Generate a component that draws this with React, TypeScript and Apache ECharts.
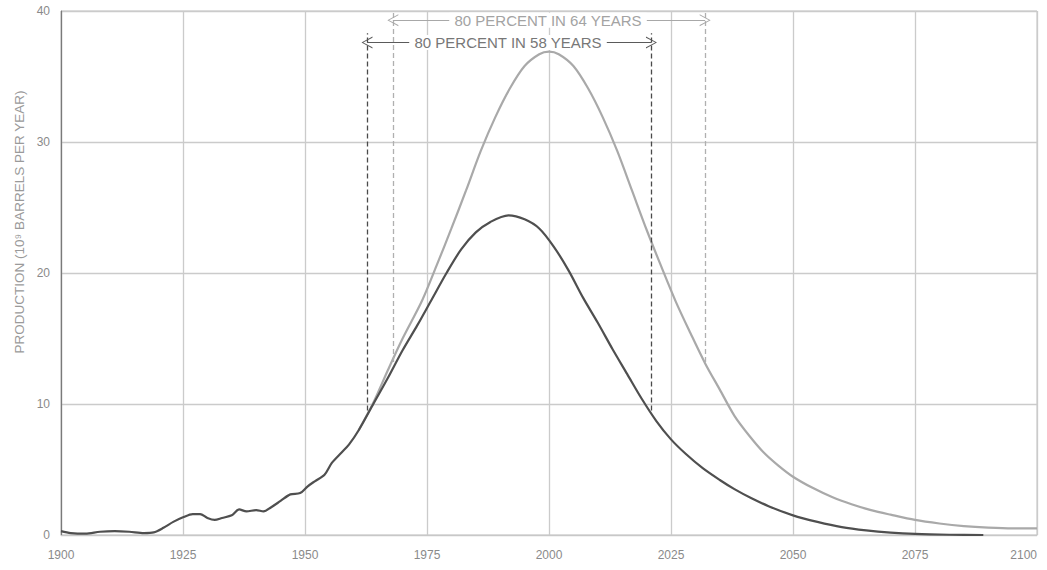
import React, { useEffect, useRef } from "react";
import * as echarts from "echarts";

// Production, 10^9 barrels per year
const lowerEstimate: [number, number][] = [
  [1900, 0.3], [1902, 0.15], [1905, 0.1], [1908, 0.25], [1911, 0.3], [1914, 0.25],
  [1917, 0.15], [1919, 0.2], [1921, 0.55], [1923, 1.0], [1925, 1.35], [1927, 1.6],
  [1928.5, 1.6], [1930, 1.3], [1931.5, 1.15], [1933, 1.3], [1935, 1.5], [1936.5, 1.95],
  [1938, 1.8], [1940, 1.9], [1941.5, 1.8], [1943, 2.1], [1945, 2.6], [1947, 3.1],
  [1949, 3.2], [1950.5, 3.7], [1952, 4.1], [1954, 4.6], [1955.5, 5.5], [1957.5, 6.3],
  [1959, 6.9], [1961, 8.0], [1964, 10.0], [1967, 12.0], [1970, 14.1], [1973, 16.0],
  [1976, 18.0], [1979, 20.0], [1982, 21.8], [1985, 23.1], [1988, 23.9], [1991.7, 24.4],
  [1995, 24.1], [1998, 23.4], [2001, 22.0], [2004, 20.2], [2007, 18.1], [2010, 16.2],
  [2013, 14.2], [2016, 12.3], [2019, 10.4], [2022, 8.7], [2025, 7.3], [2028, 6.2],
  [2031.5, 5.1], [2035, 4.2], [2038, 3.5], [2041.5, 2.8], [2045, 2.2], [2050, 1.5],
  [2055, 1.0], [2060, 0.6], [2065, 0.35], [2070, 0.18], [2075, 0.08], [2082, 0.02],
  [2089, 0.0],
];

const higherEstimate: [number, number][] = [
  [1961, 8.0], [1964, 10.1], [1967, 12.6], [1970, 15.0], [1974, 17.9], [1977, 20.6],
  [1980, 23.4], [1983, 26.3], [1986, 29.3], [1989, 31.9], [1992, 34.1], [1995, 35.8],
  [1998, 36.7], [2000, 36.9], [2002, 36.7], [2005, 35.8], [2008, 34.1], [2011, 31.9],
  [2014, 29.3], [2017, 26.3], [2020, 23.3], [2023, 20.5], [2026, 17.8], [2029, 15.4],
  [2032, 13.1], [2035, 11.1], [2038, 9.1], [2041, 7.6], [2044, 6.3], [2047, 5.3],
  [2050, 4.45], [2054, 3.6], [2058, 2.9], [2062, 2.35], [2066, 1.9], [2070, 1.55],
  [2075, 1.15], [2080, 0.88], [2085, 0.68], [2090, 0.56], [2095, 0.5], [2100, 0.5],
];

// 80 percent spans
const lowSpan = { start: 1962.7, end: 2021, base: 9.5, top: 38.3, arrowY: 37.6, text: "80 PERCENT IN 58 YEARS", textX: 1991.6 };
const highSpan = { start: 1968, end: 2032, base: 13.2, top: 40, arrowY: 39.3, text: "80 PERCENT IN 64 YEARS", textX: 1999.8 };

const xTicks = [1900, 1925, 1950, 1975, 2000, 2025, 2050, 2075, 2100];
const yTicks = [0, 10, 20, 30, 40];
const yTitle = "PRODUCTION (10⁹ BARRELS PER YEAR)";

const FONT = "'Liberation Sans Narrow', 'Liberation Sans', Arial, sans-serif";
const chevron = "path://M5,0 L10,10 L9,10 L5,1.6 L1,10 L0,10 Z";

export default function App() {
  const ref = useRef<HTMLDivElement>(null);
  useEffect(() => {
    document.body.style.margin = "0";
    const chart = echarts.init(ref.current!, null, { renderer: "svg" });
    const spanLines = (s: typeof lowSpan) => [
      [{ coord: [s.start, s.base] }, { coord: [s.start, s.top] }],
      [{ coord: [s.end, s.base] }, { coord: [s.end, s.top] }],
    ];
    const arrow = (s: typeof lowSpan, color: string) => [
      { coord: [s.start, s.arrowY], symbol: chevron, lineStyle: { type: "solid", color, width: 1 } },
      { coord: [s.end, s.arrowY], symbol: chevron },
    ];
    chart.setOption({
      animation: false,
      backgroundColor: "#ffffff",
      grid: {
        left: 61, right: 10, top: 11, bottom: 35,
        outerBoundsMode: "none",
        show: true, borderColor: "#c2c2c2", borderWidth: 1,
      },
      graphic: [
        {
          type: "text", x: 19, y: 222, rotation: Math.PI / 2,
          style: {
            text: yTitle, fill: "#9a9a9a", font: `13.5px ${FONT}`,
            textAlign: "center", textVerticalAlign: "middle",
          },
        },
      ],
      xAxis: {
        type: "value", min: 1900, max: 2100, interval: 25,
        axisLine: { show: true, lineStyle: { color: "#c8c8c8" } },
        axisTick: { show: false },
        axisLabel: {
          color: "#8a8a8a", fontFamily: FONT, fontSize: 12, margin: 14,
          alignMaxLabel: "right",
          formatter: (v: number) => (xTicks.includes(v) ? String(v) : ""),
        },
        splitLine: { show: true, lineStyle: { color: "#cbcbcb", width: 1.3 } },
      },
      yAxis: {
        type: "value", min: 0, max: 40, interval: 10,
        axisLine: { show: true, lineStyle: { color: "#7a7a7a", width: 1.2 } },
        axisTick: { show: false },
        axisLabel: {
          color: "#8a8a8a", fontFamily: FONT, fontSize: 12, margin: 11,
          formatter: (v: number) => (yTicks.includes(v) ? String(v) : ""),
        },
        splitLine: { show: true, lineStyle: { color: "#cbcbcb", width: 1.3 } },
      },
      series: [
        {
          type: "line", data: higherEstimate, smooth: 0.3, showSymbol: false,
          lineStyle: { color: "#a9a9a9", width: 2.2 }, z: 3,
          markLine: {
            silent: true, symbol: "none", animation: false,
            lineStyle: { type: [5, 3], color: "#b0b0b0", width: 1.3 },
            label: { show: false },
            data: [...spanLines(highSpan), arrow(highSpan, "#a8a8a8")],
            symbolSize: [12, 11],
          },
          markPoint: {
            silent: true, symbol: "rect", symbolSize: 0,
            data: [{ coord: [highSpan.textX, highSpan.arrowY], name: highSpan.text }],
            label: {
              show: true, position: "inside", formatter: "{b}",
              color: "#a3a3a3", fontFamily: FONT, fontSize: 15,
              backgroundColor: "#ffffff", padding: [0, 5],
            },
          },
        },
        {
          type: "line", data: lowerEstimate, smooth: 0.3, showSymbol: false,
          lineStyle: { color: "#4f4f4f", width: 2.2 }, z: 4,
          markLine: {
            silent: true, symbol: "none", animation: false,
            lineStyle: { type: [5, 3], color: "#4a4a4a", width: 1.3 },
            label: { show: false },
            data: [...spanLines(lowSpan), arrow(lowSpan, "#5a5a5a")],
            symbolSize: [12, 11],
          },
          markPoint: {
            silent: true, symbol: "rect", symbolSize: 0,
            data: [{ coord: [lowSpan.textX, lowSpan.arrowY], name: lowSpan.text }],
            label: {
              show: true, position: "inside", formatter: "{b}",
              color: "#777777", fontFamily: FONT, fontSize: 15,
              backgroundColor: "#ffffff", padding: [0, 5],
            },
          },
        },
      ],
    });
    return () => chart.dispose();
  }, []);
  return <div ref={ref} style={{ width: 1047, height: 570 }} />;
}
